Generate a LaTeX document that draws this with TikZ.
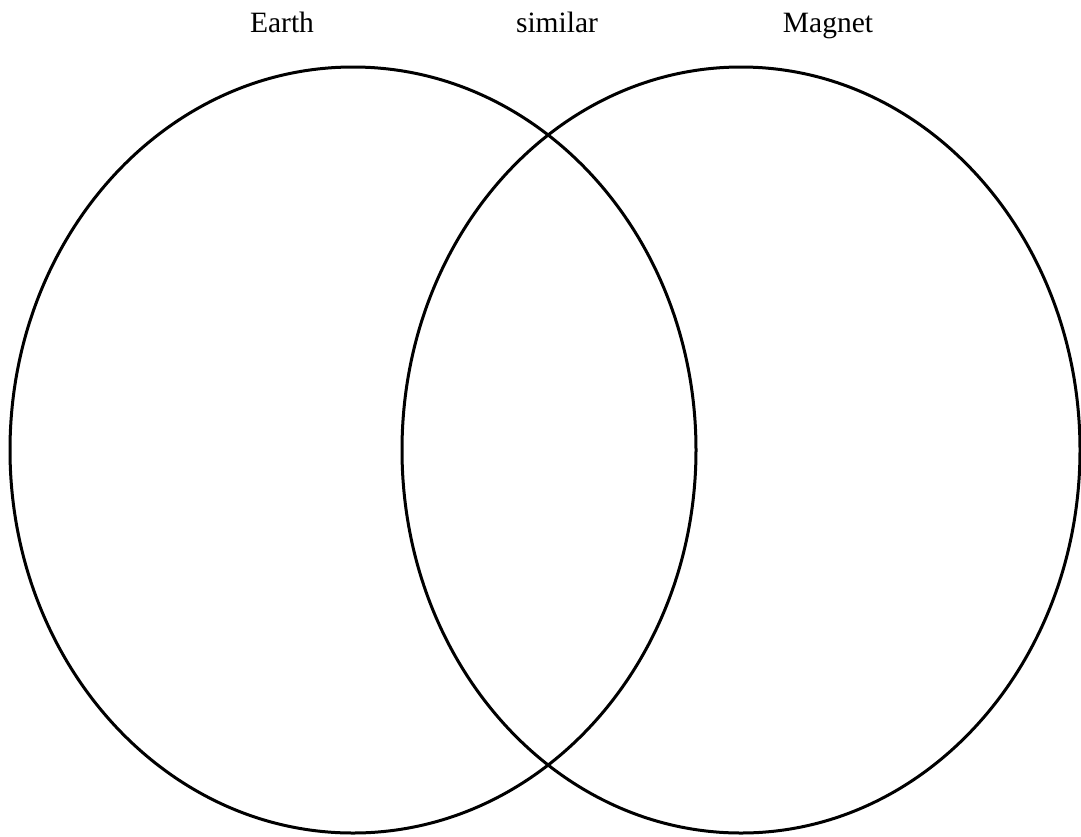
\documentclass[tikz,border=0pt]{standalone}
\usepackage{fontspec}
\setmainfont{Liberation Serif}
\usetikzlibrary{shapes.geometric,positioning}

\begin{document}
\begin{tikzpicture}[
    x=1pt, y=-1pt,
    setcirc/.style={ellipse, draw=black, line width=3pt, inner sep=0pt,
                    minimum width=686pt, minimum height=766pt},
    setlabel/.style={anchor=base, inner sep=0pt,
                     font=\fontsize{29.5}{35}\selectfont}]
  \useasboundingbox (0,0) rectangle (1081,836);
  % the two sets
  \node[setcirc] (earth)  at (353,450) {};
  \node[setcirc, minimum width=678pt] (magnet) at (741,450) {};
  % headings
  \node[setlabel] (lblearth)   at (282,32) {Earth};
  \node[setlabel] (lblsimilar) at (557,32) {similar};
  \node[setlabel] (lblmagnet)  at (828,32) {Magnet};
\end{tikzpicture}
\end{document}
